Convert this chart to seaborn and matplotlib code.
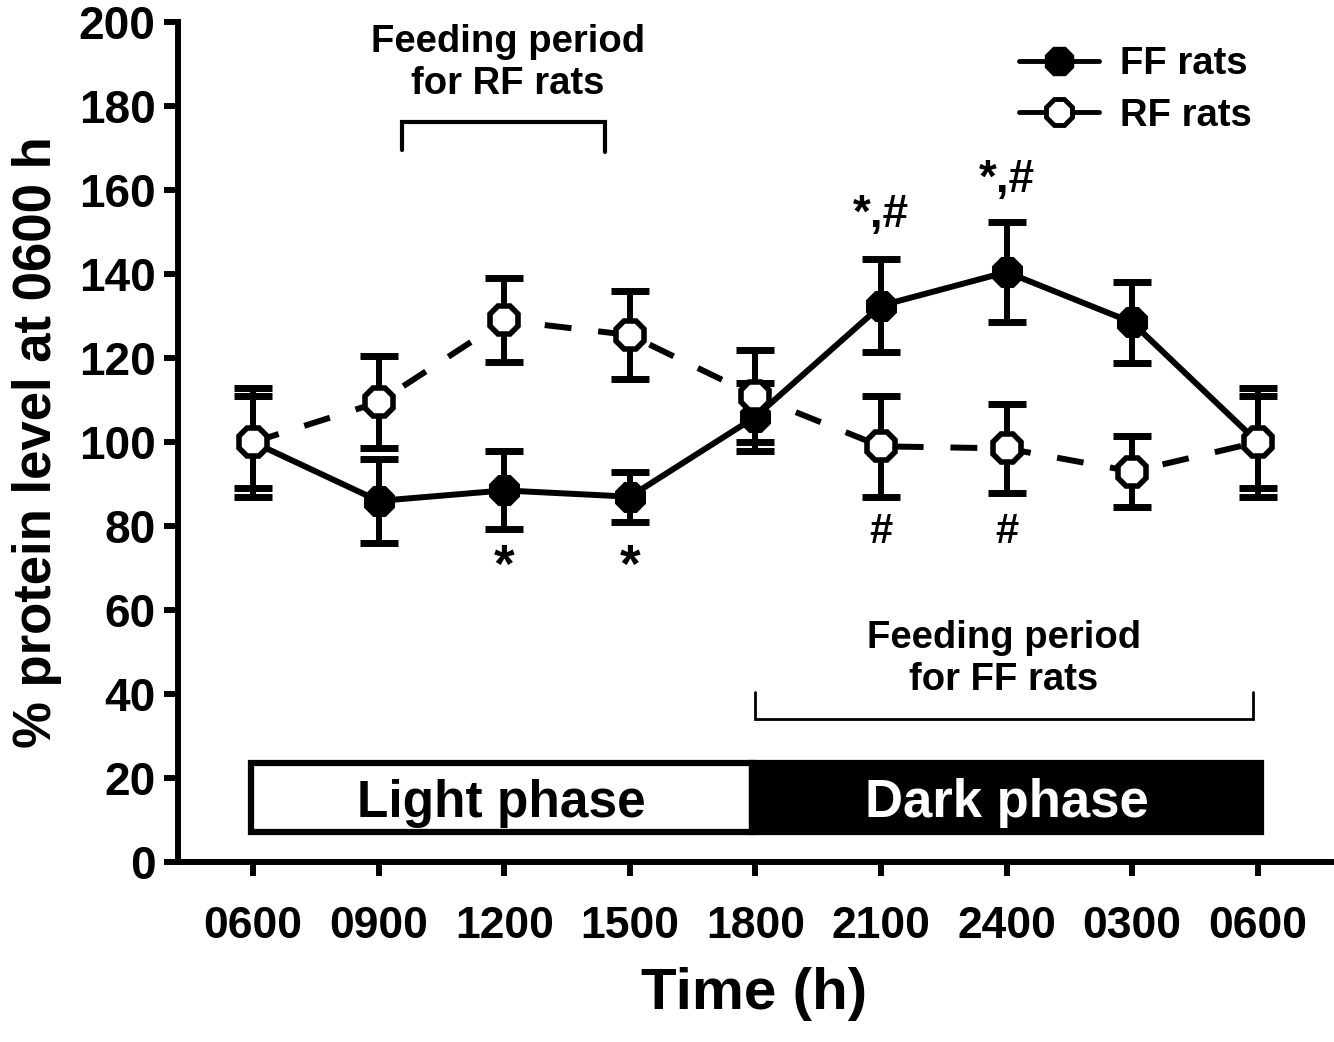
import numpy as np
import pandas as pd
import seaborn as sns
import matplotlib.pyplot as plt
from matplotlib.patches import Rectangle
from matplotlib.lines import Line2D

# values
time_labels = ['0600', '0900', '1200', '1500', '1800', '2100', '2400', '0300', '0600']
ff_mean = [100, 86, 88.5, 87, 106, 132.5, 140.5, 128.5, 100]
ff_err = [13, 10, 9.3, 6, 8, 11, 12, 9.7, 13]
rf_mean = [100, 109.5, 129, 125.5, 111, 99, 98.5, 93, 100]
rf_err = [11, 11, 10, 10.5, 11, 12, 10.5, 8.5, 11]

# significance marks: (time index, y, text, size)
marks = [(2, 70, '*', 38), (3, 70, '*', 38), (5, 78.5, '#', 30), (6, 78.5, '#', 30),
         (5, 154, '*,#', 33), (6, 162.5, '*,#', 33)]

x = np.arange(len(time_labels))
df = pd.DataFrame({'t': np.concatenate([x, x]),
                   'value': ff_mean + rf_mean,
                   'group': ['FF rats'] * len(x) + ['RF rats'] * len(x)})

sns.set_style('ticks')
plt.rcParams['font.family'] = ['Liberation Sans', 'DejaVu Sans']
plt.rcParams['font.weight'] = 'bold'
plt.rcParams['text.color'] = 'black'
plt.rcParams['axes.labelcolor'] = 'black'
plt.rcParams['xtick.color'] = 'black'
plt.rcParams['ytick.color'] = 'black'

fig = plt.figure(figsize=(13.34, 10.42), dpi=100)
ax = fig.add_axes([0.1334, 0.1727, 0.864, 0.806])

lw = 4.3
# error bars first, markers on top
ax.errorbar(x, ff_mean, yerr=ff_err, fmt='none', ecolor='black',
            elinewidth=lw, capsize=14, capthick=5, zorder=2)
ax.errorbar(x, rf_mean, yerr=rf_err, fmt='none', ecolor='black',
            elinewidth=lw, capsize=14, capthick=5, zorder=4)

ff = df[df.group == 'FF rats']
rf = df[df.group == 'RF rats']
sns.lineplot(data=ff, x='t', y='value', ax=ax, color='black', lw=lw,
             marker='8', markersize=24, markerfacecolor='black',
             markeredgecolor='black', zorder=3)
sns.lineplot(data=rf, x='t', y='value', ax=ax, color='black', lw=lw,
             marker='8', markersize=22, markerfacecolor='white',
             markeredgecolor='black', markeredgewidth=4,
             dashes=(4.5, 4.5), zorder=5)

# light / dark phase bar
ax.add_patch(Rectangle((-0.02, 7.2), 3.99, 16.4, facecolor='white',
                       edgecolor='black', lw=4.5, zorder=1))
ax.add_patch(Rectangle((3.97, 7.2), 4.06, 16.4, facecolor='black',
                       edgecolor='black', lw=4.5, zorder=1))
ax.text(1.98, 14.0, 'Light phase', ha='center', va='center', fontsize=37,
        fontweight='bold', color='black')
ax.text(6.0, 14.0, 'Dark phase', ha='center', va='center', fontsize=38,
        fontweight='bold', color='white')

# feeding period brackets
ax.plot([1.19, 1.19, 2.8, 2.8], [169.5, 176.3, 176.3, 169.2], color='black',
        lw=3, solid_joinstyle='miter')
ax.text(2.03, 190.3, 'Feeding period\nfor RF rats', ha='center', va='center',
        fontsize=27.5, fontweight='bold', linespacing=1.2)
ax.plot([4.0, 4.0, 7.96, 7.96], [40.5, 34, 34, 40.5], color='black',
        lw=2, solid_joinstyle='miter')
ax.text(5.98, 48.3, 'Feeding period\nfor FF rats', ha='center', va='center',
        fontsize=27.5, fontweight='bold', linespacing=1.2)

for i, yv, s, fs in marks:
    ax.text(i, yv, s, ha='center', va='center', fontsize=fs, fontweight='bold')

# legend with solid lines for both groups
handles = [Line2D([], [], color='black', lw=3.5, marker='8', markersize=22,
                  markerfacecolor='black', markeredgecolor='black'),
           Line2D([], [], color='black', lw=3.5, marker='8', markersize=20,
                  markerfacecolor='white', markeredgecolor='black',
                  markeredgewidth=3.5)]
ax.legend(handles, ['FF rats', 'RF rats'], loc='upper right',
          bbox_to_anchor=(0.962, 1.012), frameon=False,
          handlelength=2.1, handletextpad=0.55, labelspacing=0.4,
          prop={'weight': 'bold', 'size': 27.5})

ax.set_xlim(-0.598, 8.58)
ax.set_ylim(0, 200)
ax.set_xticks(x)
ax.set_xticklabels(time_labels)
ax.set_yticks(np.arange(0, 201, 20))
ax.tick_params(axis='both', labelsize=33, width=4.3, length=10, direction='out')
ax.tick_params(axis='x', labelsize=32, pad=22)
ax.tick_params(axis='y', pad=6)
for lab in ax.get_xticklabels() + ax.get_yticklabels():
    lab.set_fontweight('bold')
for side in ['top', 'right']:
    ax.spines[side].set_visible(False)
for side in ['left', 'bottom']:
    ax.spines[side].set_linewidth(4.3)
    ax.spines[side].set_color('black')

ax.set_xlabel('Time (h)', fontsize=42, fontweight='bold', labelpad=14)
ax.set_ylabel('% protein level at 0600 h', fontsize=38, fontweight='bold',
              labelpad=12)

fig.savefig('out.png', dpi=100)
